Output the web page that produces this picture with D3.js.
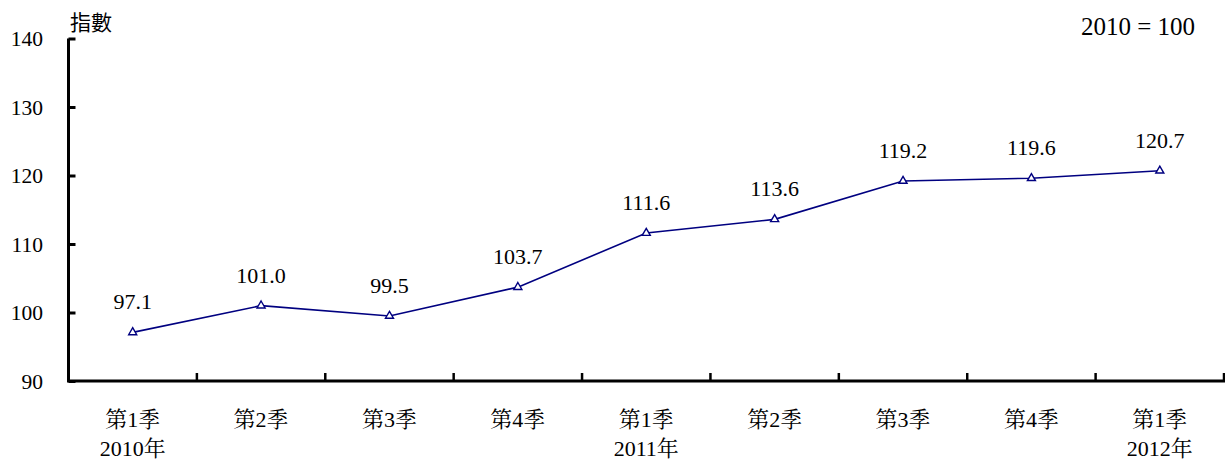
<!DOCTYPE html>
<html>
<head>
<meta charset="utf-8">
<script src="https://cdn.jsdelivr.net/npm/d3@7"></script>
<style>
  body { margin: 0; background: #fff; }
  svg { display: block; }
</style>
</head>
<body>
<svg id="chart" width="1225" height="462"></svg>
<script>
const quarters = ["第1季", "第2季", "第3季", "第4季", "第1季", "第2季", "第3季", "第4季", "第1季"];
const years = ["2010年", "", "", "", "2011年", "", "", "", "2012年"];
const values = [97.1, 101.0, 99.5, 103.7, 111.6, 113.6, 119.2, 119.6, 120.7];
const yTicks = [90, 100, 110, 120, 130, 140];
const yTitle = "指數";
const baseNote = "2010 = 100";

(function () {
const FONT = "'Liberation Serif', 'Times New Roman', 'Noto Serif CJK TC', 'Noto Sans CJK TC', serif";

const svg = d3.select("#chart");
const mLeft = 68.5, mRight = 1224, mTop = 38.5, mBottom = 381;
const cats = d3.range(values.length);

const x = d3.scaleBand().domain(cats).range([mLeft, mRight]).paddingInner(0).paddingOuter(0);
const y = d3.scaleLinear().domain([90, 140]).range([mBottom, mTop]);

function txt(sel) { return sel.style("font-family", FONT).attr("fill", "#000"); }

// Y axis
const yAxis = svg.append("g").attr("transform", `translate(${mLeft},0)`)
  .call(d3.axisRight(y).tickValues(yTicks).tickSize(7).tickFormat(""));
yAxis.select(".domain").attr("stroke", "#000").attr("stroke-width", 3).attr("d", `M0,${mTop}V${mBottom}`);
yAxis.selectAll(".tick line").attr("stroke", "#000").attr("stroke-width", 3);
svg.append("g").selectAll("text").data(yTicks).join("text")
  .attr("x", 43).attr("y", d => y(d)).attr("dy", "0.35em")
  .attr("text-anchor", "end").style("font-size", "21.5px").text(d => d).call(txt);

// X axis
const boundaries = cats.map(i => x(i) + x.bandwidth());
const xg = svg.append("g");
xg.append("line").attr("x1", mLeft - 1.5).attr("x2", mRight + 1).attr("y1", mBottom).attr("y2", mBottom)
  .attr("stroke", "#000").attr("stroke-width", 3);
xg.selectAll("line.tk").data(boundaries).join("line").attr("class", "tk")
  .attr("x1", d => d).attr("x2", d => d).attr("y1", mBottom).attr("y2", mBottom - 8)
  .attr("stroke", "#000").attr("stroke-width", 2.5);
svg.append("g").selectAll("text").data(quarters).join("text")
  .attr("x", (d, i) => x(i) + x.bandwidth() / 2).attr("y", 427)
  .attr("text-anchor", "middle").style("font-size", "22px").text(d => d).call(txt);
svg.append("g").selectAll("text").data(years).join("text")
  .attr("x", (d, i) => x(i) + x.bandwidth() / 2).attr("y", 456)
  .attr("text-anchor", "middle").style("font-size", "22px").text(d => d).call(txt);

// Line
const cx = i => x(i) + x.bandwidth() / 2;
svg.append("path").datum(values)
  .attr("fill", "none").attr("stroke", "#000080").attr("stroke-width", 1.6)
  .attr("d", d3.line().x((d, i) => cx(i)).y(d => y(d)));

// Markers (open triangles)
const tri = d3.symbol().type(d3.symbolTriangle).size(28);
svg.append("g").selectAll("path").data(values).join("path")
  .attr("d", tri)
  .attr("transform", (d, i) => `translate(${cx(i)},${y(d)})`)
  .attr("fill", "#fff").attr("stroke", "#000080").attr("stroke-width", 1.4);

// Data labels
svg.append("g").selectAll("text").data(values).join("text")
  .attr("x", (d, i) => cx(i)).attr("y", d => y(d) - 23)
  .attr("text-anchor", "middle").style("font-size", "22px")
  .text(d => d.toFixed(1)).call(txt);

// Titles
svg.append("text").attr("x", 70).attr("y", 30).style("font-size", "21px")
  .text(yTitle).attr("fill", "#000").style("font-family", "'Noto Sans CJK TC', sans-serif");
svg.append("text").attr("x", 1195).attr("y", 35).attr("text-anchor", "end")
  .style("font-size", "25px").text(baseNote).call(txt);
})();
</script>
</body>
</html>
